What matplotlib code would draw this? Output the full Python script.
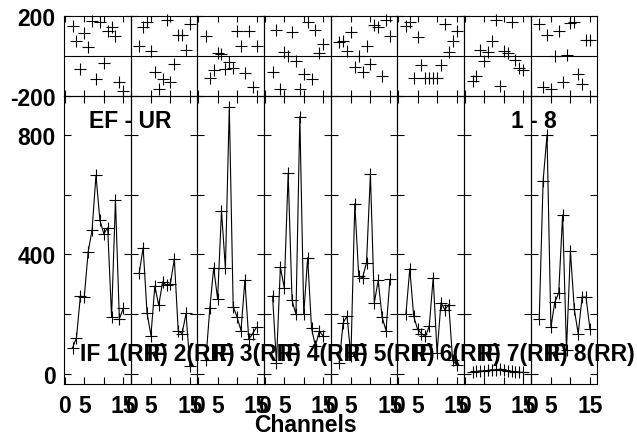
import numpy as np
import matplotlib.pyplot as plt

plt.rcParams['font.family'] = ['Liberation Sans', 'DejaVu Sans']
plt.rcParams['font.weight'] = 'bold'
plt.rcParams['axes.unicode_minus'] = False

# channel numbers plotted in every IF
channels = [2, 3, 4, 5, 6, 7, 8, 9, 10, 11, 12, 13, 14, 15]

# amplitude per IF (bottom panels)
amp1 = [87, 121, 260, 257, 409, 481, 665, 515, 469, 489, 191, 581, 184, 219]
amp2 = [338, 422, 204, 128, 294, 229, 308, 296, 302, 385, 143, 135, 202, 26]
amp3 = [48, 219, 355, 251, 545, 353, 894, 225, 190, 145, 313, 115, 135, 156]
amp4 = [260, 37, 357, 288, 671, 246, 199, 861, 199, 389, 152, 93, 143, 126]
amp5 = [37, 171, 193, 59, 570, 327, 322, 372, 668, 238, 313, 190, 145, 316]
amp6 = [199, 352, 193, 149, 135, 125, 160, 322, 70, 238, 215, 232, 45, 30]
amp7 = [5, 8, 10, 8, 12, 14, 12, 16, 14, 10, 8, 6, 5, 5]
amp8 = [182, 646, 800, 156, 240, 271, 532, 80, 411, 216, 134, 257, 257, 151]

# phase per IF (top panels)
ph1 = [148, 73, -65, 113, 47, 177, -115, 172, -37, 123, 143, 98, -128, -173]
ph2 = [52, 143, 168, 27, -78, -165, -115, 182, -132, -40, 107, 105, 30, 160]
ph3 = [98, -112, -70, 15, 10, -65, -32, -62, 127, 52, -85, 123, -157, 52]
ph4 = [-78, 132, -165, 18, -2, 122, -23, -165, -90, 168, -115, 132, 13, 60]
ph5 = [72, 77, 27, 122, -57, 2, -78, 52, -40, 155, 143, -98, 182, 102]
ph6 = [148, 168, -110, 93, -43, -110, -110, -110, -110, -43, 160, 22, 77, 127]
ph7 = [-123, -102, 32, -23, 18, 73, 182, -152, 27, 15, 168, -20, -62, -70]
ph8 = [160, -157, 105, -165, 2, 127, -132, 5, 165, 168, -90, -140, 82, 82]

amps = [amp1, amp2, amp3, amp4, amp5, amp6, amp7, amp8]
phases = [ph1, ph2, ph3, ph4, ph5, ph6, ph7, ph8]
if_labels = ["IF 1(RR)", "IF 2(RR)", "IF 3(RR)", "IF 4(RR)",
             "IF 5(RR)", "IF 6(RR)", "IF 7(RR)", "IF 8(RR)"]

W, H = 637, 439
FS = 16.5
fig = plt.figure(figsize=(W / 100, H / 100), dpi=100)

x0 = 64
pw = (597.3 - 64) / 8
res_top, res_bot = 17, 97
main_top, main_bot = 97, 385

for i in range(8):
    left = (x0 + i * pw) / W
    axr = fig.add_axes([left, 1 - res_bot / H, pw / W, (res_bot - res_top) / H])
    axm = fig.add_axes([left, 1 - main_bot / H, pw / W, (main_bot - main_top) / H])

    # phase panel
    axr.plot(channels, phases[i], linestyle="", marker="+", color="black",
             markersize=9, markeredgewidth=0.8, clip_on=False)
    axr.axhline(0, color="black", lw=0.8)
    axr.set_ylim(-200, 200)
    axr.set_xlim(-0.2, 16.9)
    axr.set_xticks([0, 5, 10, 15])
    axr.set_xticklabels([])
    axr.set_yticks([-200, 200])
    axr.tick_params(direction="in", top=True, bottom=True, left=True, right=True,
                    length=4, width=0.8, labelsize=FS, pad=6)
    if i > 0:
        axr.set_yticklabels([])

    # amplitude panel
    axm.plot(channels, amps[i], color="black", lw=0.8, marker="+",
             markersize=9, markeredgewidth=0.8)
    axm.set_ylim(-34, 930)
    axm.set_xlim(-0.2, 16.9)
    axm.set_xticks([0, 5, 10, 15])
    axm.set_xticklabels(["0", "5", "", "15"])
    axm.set_yticks([0, 200, 400, 600, 800])
    axm.set_yticklabels(["0", "", "400", "", "800"])
    axm.tick_params(direction="in", top=True, bottom=True, left=True, right=True,
                    length=5, width=0.8, labelsize=FS)
    axm.tick_params(axis="x", pad=7)
    axm.tick_params(axis="y", pad=6)
    if i > 0:
        axm.set_yticklabels([])

    for ax in (axr, axm):
        ax.patch.set_visible(False)
        for s in ax.spines.values():
            s.set_linewidth(0.8)

    # IF label drawn on the figure so the next panels do not hide it
    fig.text((x0 + i * pw + 16) / W, 1 - 355 / H, if_labels[i], fontsize=FS,
             fontweight="bold", ha="left", va="center", zorder=10)

fig.text(130 / W, 1 - 122 / H, "EF - UR", fontsize=FS, fontweight="bold",
         ha="center", va="center")
fig.text(534 / W, 1 - 121 / H, "1 - 8", fontsize=FS, fontweight="bold",
         ha="center", va="center")
fig.text(305 / W, 1 - 426 / H, "Channels", fontsize=FS, fontweight="bold",
         ha="center", va="center")

fig.savefig("out.png", dpi=100)
